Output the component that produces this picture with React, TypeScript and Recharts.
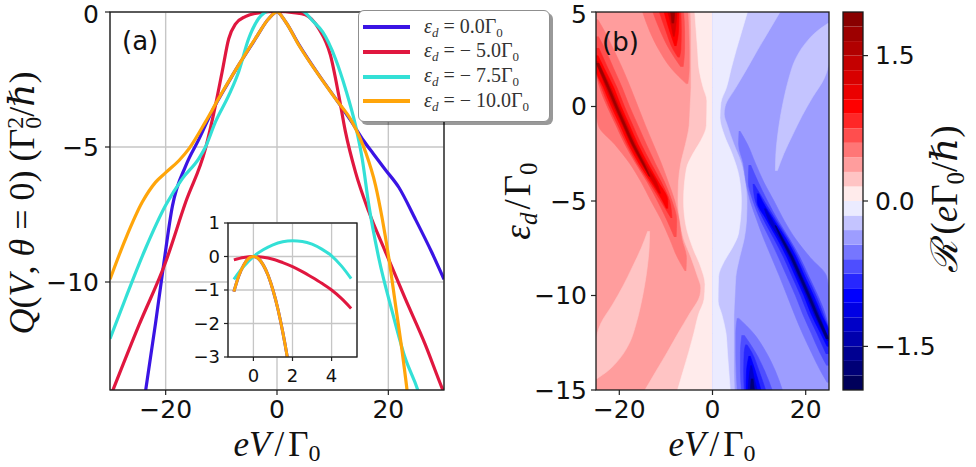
import React from 'react';
import {
  LineChart,
  Line,
  XAxis,
  YAxis,
  CartesianGrid,
  Legend,
  ComposedChart,
  Area,
} from 'recharts';

// ---------- panel (a): Q(V, θ=0) against eV/Γ0 ----------
type Pt = { v: number; q: number };
const pts = (a: number[][]): Pt[] => a.map(([v, q]) => ({ v, q }));

const Q_EPS_0 = pts([
  [-23.8, -14.3], [-21.8, -11.5], [-20.3, -9.26], [-18.8, -7.2], [-16.4, -5.7], [-14, -4.7],
  [-11.6, -3.65], [-9, -2.7], [-6.9, -1.97], [-3.9, -1.0], [-1.5, -0.25], [0, 0], [1.5, -0.35],
  [3.9, -1.2], [7.5, -2.33], [10.5, -3.2], [13.5, -4.1], [15.5, -4.75], [17.3, -5.25],
  [19.5, -5.85], [21.9, -6.5], [24.8, -7.65], [27.8, -8.9], [30, -9.9],
]);
const Q_EPS_M5 = pts([
  [-29.6, -14.07], [-24.8, -11.6], [-20, -9.26], [-16.4, -7.04], [-12.85, -5.06], [-11.06, -3.46],
  [-9.86, -2.22], [-8.67, -0.99], [-7.47, -0.45], [-5.7, -0.17], [-3, -0.02], [0, 0.02], [3, -0.02],
  [5.1, -0.1], [7.5, -0.62], [9.6, -1.6], [11.1, -3.09], [12.3, -4.44], [14.1, -5.93], [16.5, -7.4],
  [19.5, -8.89], [23, -10.6], [26.6, -12.3], [29.6, -13.9], [30.2, -14.2],
]);
const Q_EPS_M75 = pts([
  [-30, -12.1], [-27.2, -10.6], [-23.6, -8.75], [-20, -7.16], [-17, -6.17], [-14.05, -5.43],
  [-12.85, -5.0], [-11.06, -4.07], [-8.67, -3.09], [-6.9, -2.22], [-5.1, -0.99], [-3.3, -0.24],
  [-1.5, 0.05], [1.5, 0.15], [4.5, 0.05], [6.5, -0.35], [8.2, -0.74], [10.5, -1.73], [12.3, -2.84],
  [14.1, -4.2], [15.3, -5.43], [16.5, -7.16], [18.3, -9.13], [20.7, -11.1], [23, -12.8],
  [25.4, -14.07], [26, -14.5],
]);
const Q_EPS_M10 = pts([
  [-30, -9.9], [-27.2, -8.4], [-24.2, -7.04], [-21.8, -6.3], [-20, -5.95], [-17.6, -5.5],
  [-15.8, -5.06], [-12.85, -4.07], [-10.5, -3.21], [-6.9, -1.97], [-3.9, -0.99], [-1.5, -0.25],
  [0, 0], [1.5, -0.35], [3.94, -1.23], [7.5, -2.34], [10.5, -3.21], [13.5, -4.07], [15.9, -5.18],
  [17.7, -6.42], [18.9, -7.65], [20.1, -9.13], [21.3, -10.86], [22.5, -12.6], [23.4, -14.07],
  [23.8, -14.8],
]);

// inset: small-bias detail
const IN_EPS_0 = pts([
  [-1, -1.05], [-0.75, -0.58], [-0.5, -0.26], [-0.25, -0.06], [0, 0], [0.25, -0.06], [0.5, -0.25],
  [0.75, -0.56], [1, -1.0], [1.25, -1.56], [1.5, -2.25], [1.75, -3.06], [1.8, -3.24],
]);
const IN_EPS_M5 = pts([
  [-1, -0.1], [-0.5, -0.03], [0, 0], [0.5, -0.02], [1, -0.08], [1.5, -0.18], [2, -0.3],
  [2.5, -0.45], [3, -0.62], [3.5, -0.8], [4, -1.0], [4.5, -1.25], [5, -1.55],
]);
const IN_EPS_M75 = pts([
  [-1, -0.68], [-0.5, -0.3], [0, 0], [0.5, 0.2], [1, 0.35], [1.5, 0.44], [2, 0.47], [2.5, 0.45],
  [3, 0.37], [3.5, 0.22], [4, 0.02], [4.5, -0.28], [5, -0.66],
]);
const IN_EPS_M10 = pts([
  [-1, -1.05], [-0.75, -0.58], [-0.5, -0.26], [-0.25, -0.06], [0, 0], [0.25, -0.06], [0.5, -0.25],
  [0.75, -0.56], [1, -1.0], [1.25, -1.56], [1.5, -2.25], [1.75, -3.06], [1.8, -3.24],
]);

const EPS_LABELS = ['0.0', '\u2212 5.0', '\u2212 7.5', '\u2212 10.0'];
const COLORS = ['#3a14e4', '#e0173f', '#33e0d6', '#ffa50a'];
const MAIN_DATA = [Q_EPS_0, Q_EPS_M5, Q_EPS_M75, Q_EPS_M10];
const INSET_DATA = [IN_EPS_0, IN_EPS_M5, IN_EPS_M75, IN_EPS_M10];

const V_TICKS_A = [-20, 0, 20];
const Q_TICKS_A = [-10, -5, 0];
const V_TICKS_IN = [0, 2, 4];
const Q_TICKS_IN = [-3, -2, -1, 0, 1];

// ---------- panel (b): filled contours of R(eV, ε_d) ----------
// each row: [ε_d, V_left, V_right] bounding a contour band
type Row = [number, number, number];

const POS_BASE: Row[] = [[5, -25, 0], [-15, -25, 0]];
const POS_LIGHT: Row[] = [
  [5, -4.7, 0], [4, -4.6, 0], [3, -4.6, 0], [2, -4.6, 0], [1, -4.6, 0], [0, -4.8, 0], [-1, -5, 0],
  [-2, -5.8, 0], [-3, -6.8, 0], [-4, -7.3, 0], [-5, -7.4, 0], [-6, -7, 0], [-7, -6.2, 0],
  [-8, -4.6, 0], [-9, -3.2, 0], [-9.6, -2.5, 0], [-10, -2.7, 0], [-11, -5, 0], [-12, -7.4, 0],
  [-13, -9.7, 0], [-14, -12.1, 0], [-15, -14.5, 0],
];
const POS_PALE: Row[] = [
  [5, -3.8, 0], [4, -3.5, 0], [3, -3.2, 0], [2, -2.9, 0], [1, -2, 0], [0.3, -1.2, 0], [-1, -1.3, 0],
  [-1.8, -2.5, 0], [-2.5, -4.2, 0], [-3.3, -5.6, 0], [-5, -6.2, 0], [-6.3, -5.7, 0],
  [-7.5, -4.2, 0], [-8.5, -2.5, 0], [-9.4, -1.6, 0], [-10.2, -1.8, 0], [-11, -3, 0], [-12, -4, 0],
  [-13, -5.1, 0], [-14, -6.3, 0], [-15, -7.5, 0],
];
const POS_STREAK: Row[] = [
  [-6.6, -13.9, -13.5], [-7.5, -15.3, -13.6], [-8.5, -17.2, -14], [-9.5, -19.2, -14.6],
  [-10.5, -21.5, -15.4], [-11.5, -24, -16.4], [-12.5, -25, -17.8], [-13.3, -25, -19.8],
  [-14, -25, -22.5], [-14.4, -25, -24.8],
];
const POS_RIDGE_1: Row[] = [
  [4.6, -25, -24.6], [4, -25, -23.2], [3, -25, -21.2], [2, -25, -19.3], [1, -25, -17.6], [0, -25, -16],
  [-1, -24.5, -14.4], [-2, -21, -12.7], [-3, -17.8, -11], [-4, -15.3, -9.5], [-5, -13.2, -8.1],
  [-6, -11, -7.2], [-7, -9.2, -6.6], [-8, -7.5, -5.6], [-8.7, -5.9, -5.7],
];
const POS_RIDGE_2: Row[] = [
  [3.7, -25, -24.5], [3, -25, -23], [2, -25, -21.2], [1, -24.2, -19.4], [0, -22.6, -17.8],
  [-1, -20.7, -16], [-2, -18.8, -14.2], [-3, -16.5, -12.3], [-4, -14, -10.3], [-5, -11.8, -8.7],
  [-6, -9.8, -7.7], [-6.9, -8.2, -7.8],
];
const POS_RIDGE_3: Row[] = [
  [3.1, -25, -24.4], [2, -25, -22.4], [1, -23.8, -20.5], [0, -22.2, -18.9], [-1, -20.3, -17.1],
  [-2, -18.4, -15.3], [-3, -16.2, -13.2], [-4, -13.6, -11], [-5, -11.1, -9.2], [-5.9, -8.9, -8.7],
];
const POS_RIDGE_4: Row[] = [
  [2.7, -25, -24.6], [2, -25, -23.2], [1, -23.4, -21.2], [0, -21.7, -19.6], [-1, -19.8, -17.8],
  [-2, -18, -16], [-3, -15.8, -13.9], [-4, -13.2, -11.6], [-5, -10.7, -9.6], [-5.4, -9.9, -9.6],
];
const POS_RIDGE_5: Row[] = [
  [2.4, -25, -24.6], [1, -22.9, -21.8], [0, -21.2, -20.1], [-1, -19.3, -18.3], [-2, -17.5, -16.5],
  [-3, -15.3, -14.4], [-4, -12.8, -12], [-4.6, -11.4, -11.1],
];
const POS_RIDGE_6: Row[] = [
  [2.3, -25, -24.4], [1, -22.6, -22.1], [0, -20.9, -20.4], [-1, -19.1, -18.6], [-2, -17.3, -16.8],
  [-3, -15.1, -14.7], [-3.7, -13.6, -13.4],
];
const POS_TONGUE_1: Row[] = [[5, -15, -5.3], [4, -13.5, -5.1], [3, -11.5, -5.0], [2, -8.8, -5.0], [1.2, -5.6, -5.3]];
const POS_TONGUE_2: Row[] = [[5, -12.8, -6.2], [4, -11.2, -6.0], [3, -9.2, -6.0], [2.1, -6.8, -6.3]];
const POS_TONGUE_3: Row[] = [[5, -11.4, -6.8], [4, -10, -6.7], [3, -8.4, -6.8], [2.6, -7.4, -7.1]];
const POS_TONGUE_4: Row[] = [[5, -10.4, -7.2], [4, -9.2, -7.3], [3.2, -8.1, -7.8]];
const POS_TONGUE_5: Row[] = [[5, -9.6, -7.6], [4.2, -8.8, -7.9], [3.7, -8.4, -8.2]];
const POS_TONGUE_6: Row[] = [[5, -9, -8.1], [4.4, -8.7, -8.3]];

const NEG_BASE: Row[] = [[5, 0, 25], [-15, 0, 25]];
const NEG_LIGHT: Row[] = [
  [-15, 0, 4.7], [-14, 0, 4.6], [-13, 0, 4.6], [-12, 0, 4.6], [-11, 0, 4.6], [-10, 0, 4.8], [-9, 0, 5],
  [-8, 0, 5.8], [-7, 0, 6.8], [-6, 0, 7.3], [-5, 0, 7.4], [-4, 0, 7], [-3, 0, 6.2], [-2, 0, 4.6],
  [-1, 0, 3.2], [-0.4, 0, 2.5], [0, 0, 2.7], [1, 0, 5], [2, 0, 7.4], [3, 0, 9.7], [4, 0, 12.1],
  [5, 0, 14.5],
];
const NEG_PALE: Row[] = [
  [-15, 0, 3.8], [-14, 0, 3.5], [-13, 0, 3.2], [-12, 0, 2.9], [-11, 0, 2], [-10.3, 0, 1.2], [-9, 0, 1.3],
  [-8.2, 0, 2.5], [-7.5, 0, 4.2], [-6.7, 0, 5.6], [-5, 0, 6.2], [-3.7, 0, 5.7], [-2.5, 0, 4.2],
  [-1.5, 0, 2.5], [-0.6, 0, 1.6], [0.2, 0, 1.8], [1, 0, 3], [2, 0, 4], [3, 0, 5.1], [4, 0, 6.3],
  [5, 0, 7.5],
];
const NEG_STREAK: Row[] = [
  [-3.4, 13.5, 13.9], [-2.5, 13.6, 15.3], [-1.5, 14, 17.2], [-0.5, 14.6, 19.2], [0.5, 15.4, 21.5],
  [1.5, 16.4, 24], [2.5, 17.8, 25], [3.3, 19.8, 25], [4, 22.5, 25], [4.4, 24.8, 25],
];
const NEG_RIDGE_1: Row[] = [
  [-14.6, 24.6, 25], [-14, 23.2, 25], [-13, 21.2, 25], [-12, 19.3, 25], [-11, 17.6, 25], [-10, 16, 25],
  [-9, 14.4, 24.5], [-8, 12.7, 21], [-7, 11, 17.8], [-6, 9.5, 15.3], [-5, 8.1, 13.2], [-4, 7.2, 11],
  [-3, 6.6, 9.2], [-2, 5.6, 7.5], [-1.3, 5.7, 5.9],
];
const NEG_RIDGE_2: Row[] = [
  [-13.7, 24.5, 25], [-13, 23, 25], [-12, 21.2, 25], [-11, 19.4, 24.2], [-10, 17.8, 22.6],
  [-9, 16, 20.7], [-8, 14.2, 18.8], [-7, 12.3, 16.5], [-6, 10.3, 14], [-5, 8.7, 11.8],
  [-4, 7.7, 9.8], [-3.1, 7.8, 8.2],
];
const NEG_RIDGE_3: Row[] = [
  [-13.1, 24.4, 25], [-12, 22.4, 25], [-11, 20.5, 23.8], [-10, 18.9, 22.2], [-9, 17.1, 20.3],
  [-8, 15.3, 18.4], [-7, 13.2, 16.2], [-6, 11, 13.6], [-5, 9.2, 11.1], [-4.1, 8.7, 8.9],
];
const NEG_RIDGE_4: Row[] = [
  [-12.7, 24.6, 25], [-12, 23.2, 25], [-11, 21.2, 23.4], [-10, 19.6, 21.7], [-9, 17.8, 19.8],
  [-8, 16, 18], [-7, 13.9, 15.8], [-6, 11.6, 13.2], [-5, 9.6, 10.7], [-4.6, 9.6, 9.9],
];
const NEG_RIDGE_5: Row[] = [
  [-12.4, 24.6, 25], [-11, 21.8, 22.9], [-10, 20.1, 21.2], [-9, 18.3, 19.3], [-8, 16.5, 17.5],
  [-7, 14.4, 15.3], [-6, 12, 12.8], [-5.4, 11.1, 11.4],
];
const NEG_RIDGE_6: Row[] = [
  [-12.3, 24.4, 25], [-11, 22.1, 22.6], [-10, 20.4, 20.9], [-9, 18.6, 19.1], [-8, 16.8, 17.3],
  [-7, 14.7, 15.1], [-6.3, 13.4, 13.6],
];
const NEG_TONGUE_1: Row[] = [[-15, 5.3, 15], [-14, 5.1, 13.5], [-13, 5.0, 11.5], [-12, 5.0, 8.8], [-11.2, 5.3, 5.6]];
const NEG_TONGUE_2: Row[] = [[-15, 6.2, 12.8], [-14, 6.0, 11.2], [-13, 6.0, 9.2], [-12.1, 6.3, 6.8]];
const NEG_TONGUE_3: Row[] = [[-15, 6.8, 11.4], [-14, 6.7, 10], [-13, 6.8, 8.4], [-12.6, 7.1, 7.4]];
const NEG_TONGUE_4: Row[] = [[-15, 7.2, 10.4], [-14, 7.3, 9.2], [-13.2, 7.8, 8.1]];
const NEG_TONGUE_5: Row[] = [[-15, 7.6, 9.6], [-14.2, 7.9, 8.8], [-13.7, 8.2, 8.4]];
const NEG_TONGUE_6: Row[] = [[-15, 8.1, 9], [-14.4, 8.3, 8.7]];

// band value of each region, in units of eΓ0/ħ (painted in this order)
const CONTOUR_LAYERS: { rows: Row[]; value: number }[] = [
  { rows: POS_BASE, value: 0.375 },
  { rows: POS_LIGHT, value: 0.225 },
  { rows: POS_PALE, value: 0.075 },
  { rows: POS_STREAK, value: 0.225 },
  { rows: POS_RIDGE_1, value: 0.525 },
  { rows: POS_RIDGE_2, value: 0.675 },
  { rows: POS_RIDGE_3, value: 0.825 },
  { rows: POS_RIDGE_4, value: 1.0 },
  { rows: POS_RIDGE_5, value: 1.3 },
  { rows: POS_RIDGE_6, value: 1.75 },
  { rows: POS_TONGUE_1, value: 0.525 },
  { rows: POS_TONGUE_2, value: 0.675 },
  { rows: POS_TONGUE_3, value: 0.825 },
  { rows: POS_TONGUE_4, value: 1.0 },
  { rows: POS_TONGUE_5, value: 1.3 },
  { rows: POS_TONGUE_6, value: 1.75 },
  { rows: NEG_BASE, value: -0.375 },
  { rows: NEG_LIGHT, value: -0.225 },
  { rows: NEG_PALE, value: -0.075 },
  { rows: NEG_STREAK, value: -0.225 },
  { rows: NEG_RIDGE_1, value: -0.525 },
  { rows: NEG_RIDGE_2, value: -0.675 },
  { rows: NEG_RIDGE_3, value: -0.825 },
  { rows: NEG_RIDGE_4, value: -1.0 },
  { rows: NEG_RIDGE_5, value: -1.3 },
  { rows: NEG_RIDGE_6, value: -1.75 },
  { rows: NEG_TONGUE_1, value: -0.525 },
  { rows: NEG_TONGUE_2, value: -0.675 },
  { rows: NEG_TONGUE_3, value: -0.825 },
  { rows: NEG_TONGUE_4, value: -1.0 },
  { rows: NEG_TONGUE_5, value: -1.3 },
  { rows: NEG_TONGUE_6, value: -1.75 },
];

const V_TICKS_B = [-20, 0, 20];
const EPS_TICKS_B = [-15, -10, -5, 0, 5];

// contour levels shared by the map and the colour bar
const LEVELS = [
  -1.95, -1.8, -1.65, -1.5, -1.35, -1.2, -1.05, -0.9, -0.75, -0.6, -0.45, -0.3, -0.15, 0,
  0.15, 0.3, 0.45, 0.6, 0.75, 0.9, 1.05, 1.2, 1.35, 1.5, 1.65, 1.8, 1.95,
];
const CBAR_TICKS = [-1.5, 0, 1.5];

// ---------- colour map (seismic) ----------
const SEISMIC: number[][] = [
  [0, 0, 0, 0.3],
  [0.25, 0, 0, 1],
  [0.5, 1, 1, 1],
  [0.75, 1, 0, 0],
  [1, 0.5, 0, 0],
];
function seismic(t: number): string {
  const x = Math.max(0, Math.min(1, t));
  let i = 0;
  while (i < SEISMIC.length - 2 && x > SEISMIC[i + 1][0]) i++;
  const a = SEISMIC[i];
  const b = SEISMIC[i + 1];
  const f = (x - a[0]) / (b[0] - a[0]);
  const c = [1, 2, 3].map((k) => Math.round(255 * (a[k] + (b[k] - a[k]) * f)));
  return `rgb(${c[0]},${c[1]},${c[2]})`;
}
const LMIN = LEVELS[0];
const LMAX = LEVELS[LEVELS.length - 1];
function bandColor(value: number): string {
  const n = LEVELS.length - 1;
  let k = 0;
  while (k < n - 1 && value >= LEVELS[k + 1]) k++;
  const mid = (LEVELS[k] + LEVELS[k + 1]) / 2;
  return seismic((mid - LMIN) / (LMAX - LMIN));
}

const toArea = (rows: Row[]) =>
  [...rows].sort((a, b) => a[0] - b[0]).map(([eps, l, r]) => ({ eps, span: [l, r] }));

// colour-bar bands: each spans the bar's full width between two levels
const CBAR_BANDS = LEVELS.slice(0, -1).map((lo, i) => ({
  color: bandColor((lo + LEVELS[i + 1]) / 2),
  rows: [
    { eps: lo, span: [0, 1] },
    { eps: LEVELS[i + 1], span: [0, 1] },
  ],
}));

// ---------- formatting ----------
const minus = (s: string) => s.replace('-', '\u2212');
const fmtInt = (v: number) => minus(String(v));
const fmtOne = (v: number) => minus(v.toFixed(1));

const TICK = { fontSize: 25, fontFamily: 'DejaVu Sans', fill: '#111' };
const TICK_SMALL = { fontSize: 18, fontFamily: 'DejaVu Sans', fill: '#111' };
const TICK_LINE = { stroke: '#222', strokeWidth: 1.2 };
const MATH = 'Liberation Serif, DejaVu Serif, serif';

const LegendBox = () => (
  <div
    style={{
      position: 'relative',
      width: 192,
      height: 112,
      background: '#fff',
      border: '1.2px solid #8f8f8f',
      borderRadius: 6,
      boxShadow: '3px 3px 0 rgba(0,0,0,0.4)',
      boxSizing: 'border-box',
    }}
  >
    {EPS_LABELS.map((label, i) => (
      <div
        key={label}
        style={{ position: 'absolute', left: 4, top: 6 + i * 24.8, height: 20, display: 'flex', alignItems: 'center' }}
      >
        <div style={{ width: 47, height: 4, background: COLORS[i] }} />
        <span
          style={{ marginLeft: 14, fontFamily: MATH, fontSize: 20, color: '#333', whiteSpace: 'nowrap', lineHeight: '20px' }}
        >
          <i>ε</i>
          <span style={{ fontSize: 13, fontStyle: 'italic', position: 'relative', top: 4 }}>d</span>
          {' = '}
          {label}Γ<span style={{ fontSize: 13, position: 'relative', top: 4 }}>0</span>
        </span>
      </div>
    ))}
  </div>
);

export default function App() {
  return (
    <div style={{ position: 'absolute', left: 0, top: 0, width: 976, height: 467, background: '#fff', overflow: 'hidden' }}>
      {/* panel (a) */}
      <div style={{ position: 'absolute', left: 0, top: 0 }}>
        <LineChart width={460} height={467} margin={{ top: 12, right: 16, bottom: 0, left: 0 }}>
          <CartesianGrid stroke="#c6c6c6" strokeWidth={1.4} />
          <XAxis
            dataKey="v" type="number" domain={[-30, 30]} ticks={V_TICKS_A} allowDataOverflow height={77}
            axisLine={false} tickLine={TICK_LINE} tickSize={5} tickMargin={5} tick={TICK} tickFormatter={fmtInt}
          />
          <YAxis
            type="number" domain={[-14, 0]} ticks={Q_TICKS_A} allowDataOverflow width={110}
            axisLine={false} tickLine={TICK_LINE} tickSize={5} tickMargin={6} tick={TICK} tickFormatter={fmtInt}
          />
          {MAIN_DATA.map((d, i) => (
            <Line
              key={EPS_LABELS[i]} data={d} dataKey="q" name={EPS_LABELS[i]} stroke={COLORS[i]} strokeWidth={3.2}
              type="monotone" dot={false} activeDot={false} isAnimationActive={false}
            />
          ))}
          <Legend
            layout="vertical" align="center" verticalAlign="middle" content={() => <LegendBox />}
            wrapperStyle={{ left: 358, top: 10, width: 192, height: 112, zIndex: 10 }}
          />
        </LineChart>
      </div>

      {/* inset of panel (a) */}
      <div style={{ position: 'absolute', left: 180, top: 210 }}>
        <LineChart width={190} height={180} margin={{ top: 13, right: 13, bottom: 0, left: 0 }}>
          <CartesianGrid stroke="#c6c6c6" strokeWidth={1.3} fill="#fff" fillOpacity={1} />
          <XAxis
            dataKey="v" type="number" domain={[-1.3, 5.3]} ticks={V_TICKS_IN} allowDataOverflow height={33}
            axisLine={false} tickLine={TICK_LINE} tickSize={4} tickMargin={8} tick={TICK_SMALL} tickFormatter={fmtInt}
          />
          <YAxis
            type="number" domain={[-3, 1]} ticks={Q_TICKS_IN} allowDataOverflow width={48}
            axisLine={false} tickLine={TICK_LINE} tickSize={4} tickMargin={4} tick={TICK_SMALL} tickFormatter={fmtInt}
          />
          {INSET_DATA.map((d, i) => (
            <Line
              key={EPS_LABELS[i]} data={d} dataKey="q" stroke={COLORS[i]} strokeWidth={3}
              type="monotone" dot={false} activeDot={false} isAnimationActive={false}
            />
          ))}
        </LineChart>
      </div>

      {/* panel (b) */}
      <div style={{ position: 'absolute', left: 480, top: 0 }}>
        <ComposedChart layout="vertical" width={360} height={467} margin={{ top: 12, right: 11, bottom: 0, left: 0 }}>
          <XAxis
            type="number" domain={[-25, 25]} ticks={V_TICKS_B} allowDataOverflow height={77}
            axisLine={false} tickLine={TICK_LINE} tickSize={5} tickMargin={5} tick={TICK} tickFormatter={fmtInt}
          />
          <YAxis
            type="number" dataKey="eps" domain={[-15, 5]} ticks={EPS_TICKS_B} allowDataOverflow reversed width={116}
            axisLine={false} tickLine={TICK_LINE} tickSize={5} tickMargin={4} tick={TICK} tickFormatter={fmtInt}
          />
          {CONTOUR_LAYERS.map((layer, i) => {
            const c = bandColor(layer.value);
            return (
              <Area
                key={i} data={toArea(layer.rows)} dataKey="span" type="monotone" fill={c} fillOpacity={1}
                stroke={c} strokeWidth={0.6} dot={false} activeDot={false} isAnimationActive={false}
              />
            );
          })}
        </ComposedChart>
      </div>

      {/* colour bar */}
      <div style={{ position: 'absolute', left: 830, top: 0 }}>
        <ComposedChart layout="vertical" width={146} height={467} margin={{ top: 12, right: 0, bottom: 77, left: 13 }}>
          <XAxis type="number" domain={[0, 1]} allowDataOverflow hide />
          <YAxis
            type="number" dataKey="eps" orientation="right" domain={[LMIN, LMAX]} ticks={CBAR_TICKS} allowDataOverflow
            reversed width={113} axisLine={false} tickLine={TICK_LINE} tickSize={5} tickMargin={7} tick={TICK}
            tickFormatter={fmtOne}
          />
          {CBAR_BANDS.map((b, i) => (
            <Area
              key={i} data={b.rows} dataKey="span" type="linear" fill={b.color} fillOpacity={1}
              stroke={b.color} strokeWidth={0.5} dot={false} activeDot={false} isAnimationActive={false}
            />
          ))}
        </ComposedChart>
      </div>

      {/* frames and labels */}
      <svg width={976} height={467} style={{ position: 'absolute', left: 0, top: 0, zIndex: 5, pointerEvents: 'none' }}>
        <g fill="none" stroke="#1a1a1a" strokeWidth={1.3}>
          <rect x={110} y={12} width={334} height={378} />
          <rect x={228} y={223} width={129} height={134} />
          <rect x={596} y={12} width={233} height={378} />
          <rect x={843} y={12} width={20} height={378} />
        </g>
        <text x={122} y={50} fontFamily="DejaVu Sans" fontSize={26} fill="#111">(a)</text>
        <text x={602} y={51} fontFamily="DejaVu Sans" fontSize={26} fill="#111">(b)</text>

        <text x={277} y={456} textAnchor="middle" fontFamily={MATH} fontSize={35} fill="#111">
          <tspan fontStyle="italic">eV</tspan>
          <tspan dx={4}>/</tspan>
          <tspan dx={4}>Γ</tspan>
          <tspan fontSize={24} dy={5}>0</tspan>
        </text>
        <text x={712} y={456} textAnchor="middle" fontFamily={MATH} fontSize={35} fill="#111">
          <tspan fontStyle="italic">eV</tspan>
          <tspan dx={4}>/</tspan>
          <tspan dx={4}>Γ</tspan>
          <tspan fontSize={24} dy={5}>0</tspan>
        </text>

        <text transform="translate(34,203) rotate(-90)" textAnchor="middle" fontFamily={MATH} fontSize={36} fill="#111">
          <tspan fontStyle="italic">Q</tspan>
          <tspan>(</tspan>
          <tspan fontStyle="italic">V</tspan>
          <tspan>, </tspan>
          <tspan fontStyle="italic">θ</tspan>
          <tspan> = 0) (Γ</tspan>
          <tspan fontSize={24} dy={7}>0</tspan>
          <tspan fontSize={24} dx={-12} dy={-18}>2</tspan>
          <tspan dy={11}>/</tspan>
          <tspan fontStyle="italic">ℏ</tspan>
          <tspan>)</tspan>
        </text>

        <text transform="translate(530,201) rotate(-90)" textAnchor="middle" fontFamily={MATH} fontSize={37} fill="#111">
          <tspan fontStyle="italic">ε</tspan>
          <tspan fontStyle="italic" fontSize={25} dy={7}>d</tspan>
          <tspan dy={-7} dx={3}>/</tspan>
          <tspan dx={3}>Γ</tspan>
          <tspan fontSize={25} dy={7}>0</tspan>
        </text>

        <text transform="translate(957,199) rotate(-90)" textAnchor="middle" fontFamily={MATH} fontSize={37} fill="#111">
          <tspan fontStyle="italic">ℛ</tspan>
          <tspan dx={6}>(</tspan>
          <tspan fontStyle="italic">e</tspan>
          <tspan>Γ</tspan>
          <tspan fontSize={25} dy={7}>0</tspan>
          <tspan dy={-7}>/</tspan>
          <tspan fontStyle="italic">ℏ</tspan>
          <tspan>)</tspan>
        </text>
      </svg>
    </div>
  );
}
